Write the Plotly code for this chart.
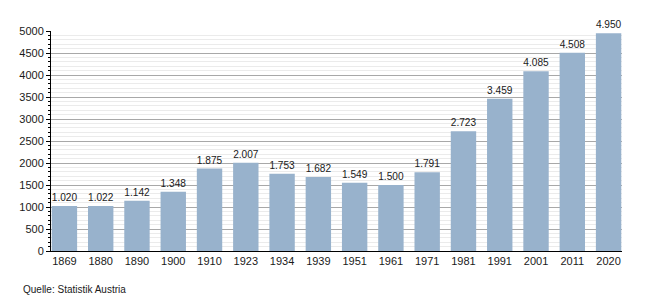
import plotly.graph_objects as go

years = ["1869", "1880", "1890", "1900", "1910", "1923", "1934", "1939",
         "1951", "1961", "1971", "1981", "1991", "2001", "2011", "2020"]
values = [1020, 1022, 1142, 1348, 1875, 2007, 1753, 1682,
          1549, 1500, 1791, 2723, 3459, 4085, 4508, 4950]
labels = [f"{v:,}".replace(",", ".") for v in values]

fig = go.Figure()
fig.add_trace(go.Bar(
    x=years, y=values, text=labels, textposition="outside",
    marker=dict(color="#98b2cc", line=dict(width=0)),
    width=0.7, cliponaxis=False,
    textfont=dict(family="Liberation Sans, Arial", size=11, color="#1a1a1a"),
))

fig.update_layout(
    width=650, height=300,
    margin=dict(l=51, r=28, t=31, b=49),
    paper_bgcolor="white", plot_bgcolor="white",
    showlegend=False,
    font=dict(family="Liberation Sans, Arial", size=11, color="#1a1a1a"),
    xaxis=dict(
        type="category", range=[-0.37, 15.37],
        showline=True, linecolor="black", linewidth=1,
        ticks="", showgrid=False, tickfont=dict(size=11),
    ),
    yaxis=dict(
        range=[0, 5000], dtick=500, tickformat="d",
        showline=True, linecolor="black", linewidth=1,
        ticks="outside", ticklen=4, tickcolor="black",
        showgrid=True, gridcolor="#a8a8a8", gridwidth=1,
        zeroline=False, tickfont=dict(size=11),
        minor=dict(dtick=100, showgrid=True, gridcolor="#ebebeb",
                   ticks="outside", ticklen=2, tickcolor="black"),
    ),
    annotations=[dict(
        text="Quelle: Statistik Austria", xref="paper", yref="paper",
        x=-51/571, y=-38/220, xanchor="left", yanchor="middle", showarrow=False,
        font=dict(size=10, color="#1a1a1a", family="Liberation Sans, Arial"),
        xshift=21,
    )],
)

fig.write_html("out.html")
